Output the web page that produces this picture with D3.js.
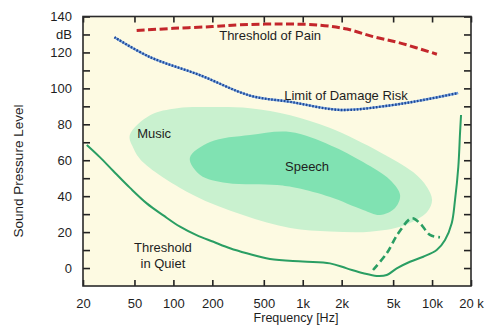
<!DOCTYPE html>
<html>
<head>
<meta charset="utf-8">
<script src="https://cdn.jsdelivr.net/npm/d3@7"></script>
<style>
  html, body { margin: 0; padding: 0; background: #ffffff; }
  svg { display: block; font-family: "Liberation Sans", Arial, sans-serif; }
</style>
</head>
<body>
<svg id="chart" width="489" height="326"></svg>
<script>
// Frequency axis ticks and labels
const freqTickValues = [20, 50, 100, 200, 500, 1000, 2000, 5000, 10000, 20000];
const freqTickLabels = ["20", "50", "100", "200", "500", "1k", "2k", "5k", "10k", "20 k"];

// Level axis ticks (every 10 dB) and labels
const levelTickValues = [0, 10, 20, 30, 40, 50, 60, 70, 80, 90, 100, 110, 120, 130, 140];
const levelTickLabels = ["0", "", "20", "", "40", "", "60", "", "80", "", "100", "", "120", "dB", "140"];

// Threshold of pain
const painFreq  = [52, 100, 200, 330, 700, 1360, 2200, 3500, 5700, 10900];
const painLevel = [132.2, 133.4, 134.4, 135.4, 135.8, 135.2, 133.0, 128.8, 125.2, 119.0];

// Limit of damage risk
const damageFreq  = [35, 66, 160, 390, 800, 1950, 4700, 8500, 15900];
const damageLevel = [128.5, 117.4, 107.4, 96.0, 92.5, 88.0, 90.5, 93.5, 97.4];

// Threshold in quiet
const quietFreq  = [21.4, 27.1, 34.3, 46.2, 62.2, 83.6, 112.5, 151, 204, 274, 369, 558, 1000, 1625, 2190, 2940, 3730, 4460, 5330, 6750, 8550, 10860, 12590, 14190, 15050, 15960, 16450, 16750];
const quietLevel = [68.5, 61.6, 54.0, 44.6, 36.0, 29.3, 23.0, 18.3, 14.6, 11.0, 8.2, 5.0, 3.6, 2.6, -0.2, -2.9, -4.4, -3.9, -0.2, 3.5, 6.3, 10.0, 15.6, 24.9, 37.9, 56.4, 75.0, 85.2];

// Raised threshold (hearing damage)
const lossFreq  = [3495, 4460, 5480, 6960, 8070, 9640, 11520];
const lossLevel = [-1.1, 8.2, 19.3, 27.7, 24.9, 18.4, 17.1];

// Music region outline
const musicFreq  = [46, 49, 58, 142, 345, 800, 1630, 3300, 5970, 9150, 10000, 9150, 7130, 3960, 1630, 800, 391, 192, 107, 66];
const musicLevel = [74, 66.8, 59, 40.6, 29.5, 22.3, 20.4, 20.2, 23.5, 31.2, 37.8, 45, 53.4, 64.5, 77.9, 85.1, 89, 89.6, 89, 85.1];

// Speech region outline
const speechFreq  = [134, 161, 260, 633, 904, 1630, 2930, 3960, 5175, 5660, 4735, 2930, 1630, 800, 391, 192];
const speechLevel = [61.2, 51.8, 47.3, 46.2, 44.5, 39.5, 32.3, 29.5, 33.4, 40.6, 49, 59, 68.4, 75.7, 74, 70.1];

const svg = d3.select("#chart");

const x = d3.scaleLog().domain([20, 20000]).range([83, 471]);
const y = d3.scaleLinear().domain([-10, 140]).range([286, 16.5]);

const textColor = "#1e1e1e";

// Plot background
svg.append("rect")
  .attr("x", x.range()[0]).attr("y", y.range()[1])
  .attr("width", x.range()[1] - x.range()[0])
  .attr("height", y.range()[0] - y.range()[1])
  .attr("fill", "#fdfae2");

const zip = (fs, ls) => fs.map((f, i) => [f, ls[i]]);

const blob = d3.line()
  .x(d => x(d[0])).y(d => y(d[1]))
  .curve(d3.curveCatmullRomClosed.alpha(0.5));

svg.append("path")
  .attr("d", blob(zip(musicFreq, musicLevel)))
  .attr("fill", "#c9f1cf");

svg.append("path")
  .attr("d", blob(zip(speechFreq, speechLevel)))
  .attr("fill", "#80e2b2");

const smooth = d3.line()
  .x(d => x(d[0])).y(d => y(d[1]))
  .curve(d3.curveCatmullRom.alpha(0.5));

// Threshold of pain
svg.append("path")
  .attr("d", smooth(zip(painFreq, painLevel)))
  .attr("fill", "none")
  .attr("stroke", "#c3262b")
  .attr("stroke-width", 3)
  .attr("stroke-dasharray", "8,3.5");

// Limit of damage risk: light base with dark dots
svg.append("path")
  .attr("d", smooth(zip(damageFreq, damageLevel)))
  .attr("fill", "none")
  .attr("stroke", "#7aa5e0")
  .attr("stroke-width", 2.4);
svg.append("path")
  .attr("d", smooth(zip(damageFreq, damageLevel)))
  .attr("fill", "none")
  .attr("stroke", "#1f4896")
  .attr("stroke-width", 2.4)
  .attr("stroke-dasharray", "1.6,1.6");

// Threshold in quiet
svg.append("path")
  .attr("d", smooth(zip(quietFreq, quietLevel)))
  .attr("fill", "none")
  .attr("stroke", "#2a9e63")
  .attr("stroke-width", 2);

// Raised threshold
svg.append("path")
  .attr("d", smooth(zip(lossFreq, lossLevel)))
  .attr("fill", "none")
  .attr("stroke", "#2a9e63")
  .attr("stroke-width", 2.6)
  .attr("stroke-dasharray", "7,4");

// Axes with inward ticks
const fmtFreq = d => freqTickLabels[freqTickValues.indexOf(d)];
const fmtLevel = d => levelTickLabels[levelTickValues.indexOf(d)];

const axisStyle = g => {
  g.select(".domain").remove();
  g.selectAll(".tick line").attr("stroke", "#222").attr("stroke-width", 1.6);
  g.selectAll(".tick text")
    .attr("fill", textColor)
    .style("font-size", "13px")
    .style("font-family", "'Liberation Sans', Arial, sans-serif");
};

svg.append("g")
  .attr("transform", `translate(0,${y.range()[0]})`)
  .call(d3.axisBottom(x).tickValues(freqTickValues).tickFormat(fmtFreq).tickSize(-6).tickPadding(13))
  .call(axisStyle);

svg.append("g")
  .attr("transform", `translate(0,${y.range()[1]})`)
  .call(d3.axisTop(x).tickValues(freqTickValues).tickFormat("").tickSize(-6))
  .call(axisStyle);

svg.append("g")
  .attr("transform", `translate(${x.range()[0]},0)`)
  .call(d3.axisLeft(y).tickValues(levelTickValues).tickFormat(fmtLevel).tickSize(-7).tickPadding(11))
  .call(axisStyle);

svg.append("g")
  .attr("transform", `translate(${x.range()[1]},0)`)
  .call(d3.axisRight(y).tickValues(levelTickValues).tickFormat("").tickSize(-7))
  .call(axisStyle);

// Frame
svg.append("rect")
  .attr("x", x.range()[0]).attr("y", y.range()[1])
  .attr("width", x.range()[1] - x.range()[0])
  .attr("height", y.range()[0] - y.range()[1])
  .attr("fill", "none")
  .attr("stroke", "#2a2a2a")
  .attr("stroke-width", 1.6);

// Axis titles
svg.append("text")
  .attr("x", 296).attr("y", 322)
  .attr("text-anchor", "middle")
  .attr("fill", textColor)
  .style("font-size", "12.5px")
  .text("Frequency [Hz]");

svg.append("text")
  .attr("transform", "translate(23,171) rotate(-90)")
  .attr("text-anchor", "middle")
  .attr("fill", textColor)
  .style("font-size", "13.5px")
  .text("Sound Pressure Level");

// Region and curve labels
const labels = [
  { text: "Threshold of Pain", f: 560, l: 129.4 },
  { text: "Limit of Damage Risk", f: 2160, l: 96.3 },
  { text: "Music", f: 71, l: 75 },
  { text: "Speech", f: 1080, l: 56.8 },
  { text: "Threshold", f: 83, l: 11.7 },
  { text: "in Quiet", f: 83, l: 2.8 }
];

svg.append("g").selectAll("text")
  .data(labels)
  .join("text")
  .attr("x", d => x(d.f))
  .attr("y", d => y(d.l))
  .attr("text-anchor", "middle")
  .attr("dy", "0.35em")
  .attr("fill", textColor)
  .style("font-size", "13px")
  .text(d => d.text);
</script>
</body>
</html>
